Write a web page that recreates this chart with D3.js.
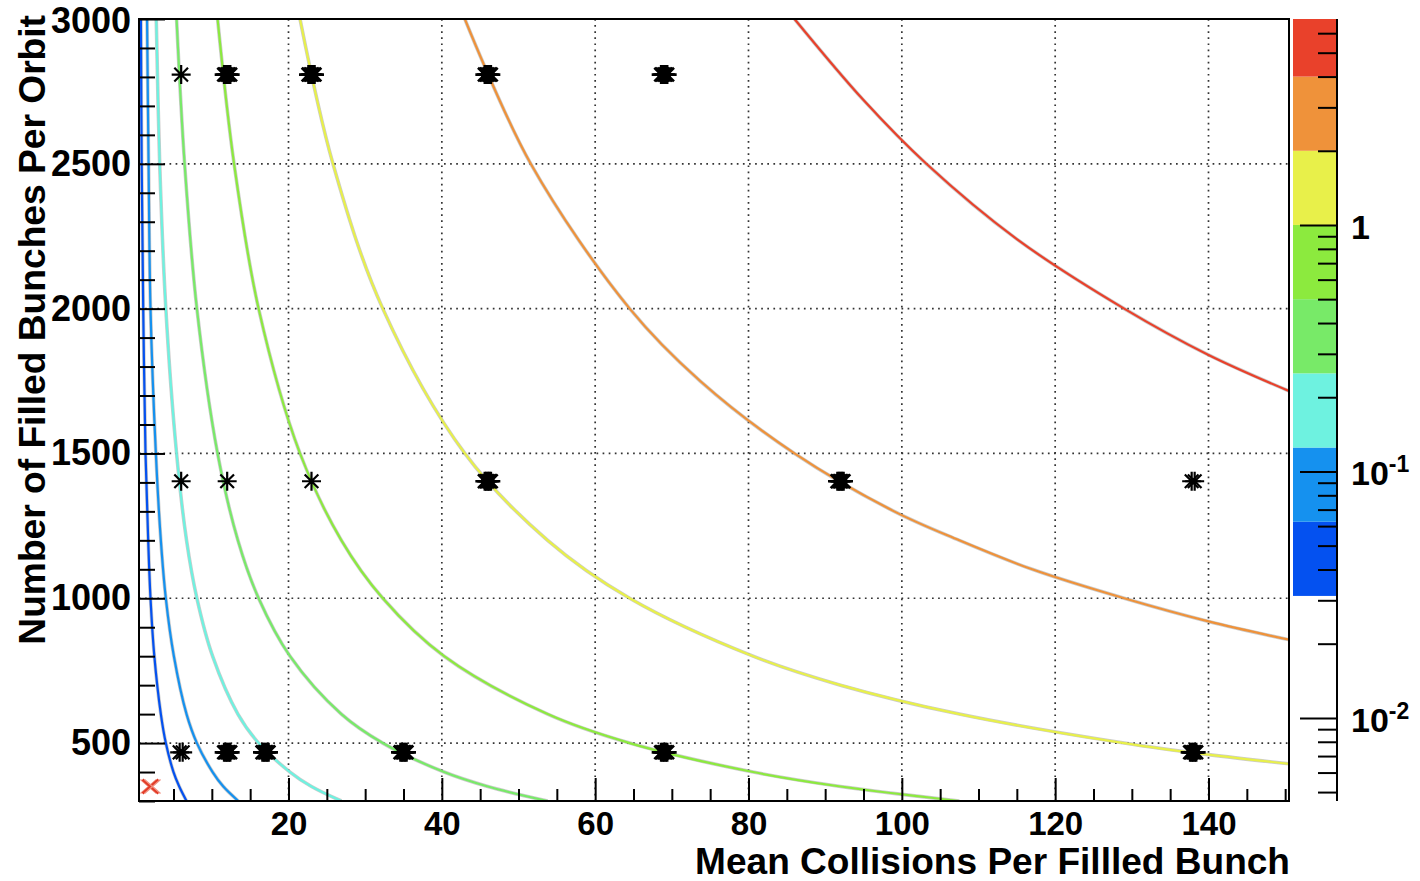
<!DOCTYPE html>
<html>
<head>
<meta charset="utf-8">
<script src="https://cdn.jsdelivr.net/npm/d3@7"></script>
<style>
  body { margin: 0; background: #fff; }
  svg { display: block; }
  text { font-family: "Liberation Sans", Arial, Helvetica, sans-serif; font-weight: bold; fill: #000; }
</style>
</head>
<body>
<div id="chart"></div>
<script>
// contour levels (z) and palette colours, lowest first
const levels = [0.03125, 0.0625, 0.125, 0.25, 0.5, 1, 2, 4];
const levelColors = ['#0451f0', '#1591ef', '#6ef2e0', '#78ea68', '#8cea3e', '#e8f04a', '#ef923a', '#e9412b'];

// contour lines: [mean collisions, filled bunches]
const contour0 = [[0.75,3000],[0.85,2500],[1.05,2000],[1.35,1500],[1.7,1200],[2.0,1000],[2.5,800],[3.35,600],[4.0,500],[5.0,400],[5.75,350],[6.7,300]];
const contour1 = [[1.55,3000],[1.75,2500],[2.0,2000],[2.7,1500],[3.35,1200],[4.0,1000],[5.05,800],[6.7,600],[8.05,500],[10.1,400],[11.5,350],[13.45,300]];
const contour2 = [[2.75,3000],[3.2,2500],[4.0,2000],[5.4,1500],[6.7,1200],[8.05,1000],[10.1,800],[13.4,600],[16.1,500],[20.2,400],[23,350],[26.9,300]];
const contour3 = [[5.4,3000],[6.45,2500],[8.05,2000],[10.75,1500],[13.4,1200],[16.1,1000],[20.2,800],[26.9,600],[32.3,500],[40.3,400],[46,350],[53.8,300]];
const contour4 = [[10.75,3000],[12.9,2500],[16.1,2000],[21.5,1500],[26.9,1200],[32.3,1000],[40.3,800],[53.8,600],[64.5,500],[80.6,400],[92,350],[107.5,300]];
const contour5 = [[21.5,3000],[25.8,2500],[32.3,2000],[43,1500],[53.8,1200],[64.5,1000],[80.6,800],[92,700],[107.5,600],[129,500],[140,460],[151,427]];
const contour6 = [[43,3000],[51.6,2500],[64.5,2000],[73.7,1750],[86,1500],[99,1300],[107.5,1200],[117,1100],[129,1000],[140,920],[151,854]];
const contour7 = [[86,3000],[95,2720],[103.2,2500],[115,2240],[129,2000],[140,1840],[151,1710]];
const contours = [contour0, contour1, contour2, contour3, contour4, contour5, contour6, contour7];

// measured points; style 1 = thin star, 2 = doubled, 3 = heavy
const ptX = [6, 12, 23, 46, 69,   6, 12, 23, 46, 92, 138,   6, 12, 17, 35, 69, 138];
const ptY = [2808, 2808, 2808, 2808, 2808,   1404, 1404, 1404, 1404, 1404, 1404,   468, 468, 468, 468, 468, 468];
const ptStyle = [1, 3, 3, 3, 3,   1, 1, 1, 3, 3, 2,   2, 3, 3, 3, 3, 3];

// current machine point (red cross)
const nowX = [2];
const nowY = [350];

// axes
const xTicks = [20, 40, 60, 80, 100, 120, 140];
const yTicks = [500, 1000, 1500, 2000, 2500, 3000];
const zTicks = [0.01, 0.1, 1];
const zTickLabels = [['10', '-2'], ['10', '-1'], ['1', '']];
const xDomain = [0.5, 150.5];
const yDomain = [300, 3000];
const zDomain = [0.0046, 6.85];

const W = 1420, H = 881;
const m = { left: 139, top: 19, right: 1289, bottom: 801 };

const svg = d3.select('#chart').append('svg')
  .attr('width', W)
  .attr('height', H);

const x = d3.scaleLinear().domain(xDomain).range([m.left, m.right]);
const y = d3.scaleLinear().domain(yDomain).range([m.bottom, m.top]);
const z = d3.scaleLog().domain(zDomain).range([m.bottom, m.top]);

svg.append('clipPath').attr('id', 'plotclip')
  .append('rect')
  .attr('x', m.left).attr('y', m.top)
  .attr('width', m.right - m.left).attr('height', m.bottom - m.top);

// dotted grid
const grid = svg.append('g').attr('stroke', '#333').attr('stroke-width', 1.7).attr('stroke-dasharray', '1.7,4.4');
grid.selectAll('.gx').data(xTicks).join('line')
  .attr('class', 'gx')
  .attr('x1', d => x(d)).attr('x2', d => x(d))
  .attr('y1', m.top).attr('y2', m.bottom);
grid.selectAll('.gy').data(yTicks.filter(d => d < 3000)).join('line')
  .attr('class', 'gy')
  .attr('x1', m.left).attr('x2', m.right)
  .attr('y1', d => y(d)).attr('y2', d => y(d));

// contour lines
const line = d3.line()
  .x(d => x(d[0]))
  .y(d => y(d[1]))
  .curve(d3.curveCatmullRom.alpha(0.5));

const curves = svg.append('g').attr('clip-path', 'url(#plotclip)').attr('fill', 'none');
curves.selectAll('.halo').data(contours).join('path')
  .attr('class', 'halo')
  .attr('d', line)
  .attr('stroke', '#8c8c8c')
  .attr('stroke-opacity', 0.45)
  .attr('stroke-width', 3.6);
curves.selectAll('.lvl').data(contours).join('path')
  .attr('class', 'lvl')
  .attr('d', line)
  .attr('stroke', (d, i) => levelColors[i])
  .attr('stroke-width', 2.2);

// star markers
function star(r) {
  const k = r * 0.72;
  return `M${-r},0L${r},0M0,${-r}L0,${r}M${-k},${-k}L${k},${k}M${-k},${k}L${k},${-k}`;
}
const points = ptX.map((d, i) => ({ x: d, y: ptY[i], s: ptStyle[i] }));
const pts = svg.append('g')
  .selectAll('g')
  .data(points)
  .join('g')
  .attr('transform', d => `translate(${x(d.x)},${y(d.y)})`);

pts.filter(d => d.s === 3)
  .append('ellipse')
  .attr('rx', 7).attr('ry', 8.5)
  .attr('fill', '#000');

pts.each(function(d) {
  const offs = d.s === 1 ? [0] : d.s === 2 ? [-1.5, 1.5] : [-3, -1.5, 0, 1.5, 3];
  d3.select(this).selectAll('path')
    .data(offs)
    .join('path')
    .attr('d', star(9.5))
    .attr('transform', o => `translate(${o},0)`)
    .attr('fill', 'none')
    .attr('stroke', '#000')
    .attr('stroke-width', d.s === 3 ? 2.6 : 2.2);
});

// red cross
const now = svg.append('g')
  .selectAll('g')
  .data(nowX.map((d, i) => [d, nowY[i]]))
  .join('g')
  .attr('transform', d => `translate(${x(d[0])},${y(d[1])})`);
now.selectAll('path').data([-2, 0, 2]).join('path')
  .attr('d', 'M-8,-7L8,7M-8,7L8,-7')
  .attr('transform', o => `translate(${o},0)`)
  .attr('fill', 'none')
  .attr('stroke', (o, i) => i === 1 ? '#e23a26' : '#f09080')
  .attr('stroke-width', (o, i) => i === 1 ? 2.4 : 1.4);

// x axis
const xAxis = svg.append('g')
  .attr('transform', `translate(0,${m.bottom})`)
  .call(d3.axisBottom(x).tickValues(xTicks).tickSize(-23).tickPadding(11).tickFormat(d3.format('d')))
  .attr('font-size', 33);
const xMinor = svg.append('g')
  .attr('transform', `translate(0,${m.bottom})`)
  .call(d3.axisBottom(x).tickValues(d3.range(5, 151, 5).filter(d => !xTicks.includes(d))).tickSize(-12).tickFormat(''));

// y axis
const yAxis = svg.append('g')
  .attr('transform', `translate(${m.left},0)`)
  .call(d3.axisLeft(y).tickValues(yTicks).tickSize(-26).tickPadding(8).tickFormat(d3.format('d')))
  .attr('font-size', 36);
// top label sits right at the frame corner, keep it inside the page
yAxis.selectAll('.tick text').filter(d => d === 3000).attr('dy', '0.38em');
const yMinor = svg.append('g')
  .attr('transform', `translate(${m.left},0)`)
  .call(d3.axisLeft(y).tickValues(d3.range(300, 3001, 100).filter(d => !yTicks.includes(d))).tickSize(-16).tickFormat(''));

[xAxis, xMinor, yAxis, yMinor].forEach(g => {
  g.select('.domain').remove();
  g.selectAll('.tick line').attr('stroke', '#000').attr('stroke-width', 2);
});

// frame
svg.append('rect')
  .attr('x', m.left).attr('y', m.top)
  .attr('width', m.right - m.left).attr('height', m.bottom - m.top)
  .attr('fill', 'none')
  .attr('stroke', '#000')
  .attr('stroke-width', 2);

// colour palette
const palX = 1293, palW = 44;
const bands = levels.map((d, i) => [d, i < levels.length - 1 ? levels[i + 1] : zDomain[1]]);
svg.append('g').selectAll('rect').data(bands).join('rect')
  .attr('x', palX)
  .attr('y', d => z(d[1]))
  .attr('width', palW)
  .attr('height', d => z(d[0]) - z(d[1]))
  .attr('fill', (d, i) => levelColors[i]);

const zMajor = svg.append('g')
  .attr('transform', `translate(${palX + palW},0)`)
  .call(d3.axisRight(z).tickValues(zTicks).tickSize(-37).tickFormat(''));
const zMinor = svg.append('g')
  .attr('transform', `translate(${palX + palW},0)`)
  .call(d3.axisRight(z).tickValues(z.ticks().filter(d => !zTicks.some(t => Math.abs(t - d) < 1e-9))).tickSize(-19).tickFormat(''));
[zMajor, zMinor].forEach(g => {
  g.select('.domain').remove();
  g.selectAll('.tick line').attr('stroke', '#000').attr('stroke-width', 2);
});
svg.append('line')
  .attr('x1', palX + palW).attr('x2', palX + palW)
  .attr('y1', m.top).attr('y2', m.bottom)
  .attr('stroke', '#000').attr('stroke-width', 2);

const zLab = svg.append('g').selectAll('text').data(zTicks).join('text')
  .attr('x', 1351)
  .attr('y', d => z(d) + 14)
  .attr('font-size', 34);
zLab.append('tspan').text((d, i) => zTickLabels[i][0]);
zLab.append('tspan')
  .attr('dy', -13)
  .attr('font-size', 23)
  .text((d, i) => zTickLabels[i][1]);

// axis titles, sized to the span they cover in the plot
function fitText(sel, base, target) {
  sel.attr('font-size', base);
  const w = sel.node().getComputedTextLength();
  sel.attr('font-size', base * target / w);
}
const xTitle = svg.append('text')
  .attr('x', 1290)
  .attr('y', 874)
  .attr('text-anchor', 'end')
  .text('Mean Collisions Per Fillled Bunch');
fitText(xTitle, 37, 595);

const yTitle = svg.append('text')
  .attr('transform', 'translate(45,15) rotate(-90)')
  .attr('text-anchor', 'end')
  .text('Number of Filled Bunches Per Orbit');
fitText(yTitle, 37, 630);
</script>
</body>
</html>
